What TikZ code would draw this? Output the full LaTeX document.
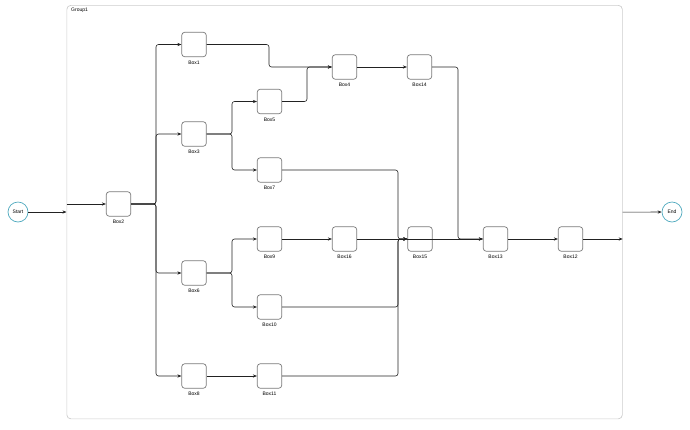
\documentclass[tikz,border=0pt]{standalone}
\usepackage{fontspec}
\setmainfont{Liberation Sans}
\usetikzlibrary{arrows.meta}
\definecolor{termc}{HTML}{4FA9BE}
\definecolor{boxc}{HTML}{7A7A7A}
\definecolor{groupc}{HTML}{CCCCCC}
\definecolor{linec}{HTML}{222222}
\begin{document}
\begin{tikzpicture}[x=1pt,y=-1pt,
  box/.style={draw=boxc, line width=0.7pt, rounded corners=3pt, minimum size=24.5pt, inner sep=0pt,
    label={[lbl, label distance=3.5pt]below:#1}},
  lbl/.style={font=\fontsize{5}{6}\selectfont, inner sep=0pt},
  term/.style={circle, draw=termc, line width=0.7pt, minimum size=20pt, inner sep=0pt, font=\fontsize{5}{6}\selectfont},
  conn/.style={draw=linec, line width=0.6pt, rounded corners=2.5pt, -{Stealth[length=4pt,width=3.2pt]}},
  grp/.style={draw=groupc, line width=0.7pt, rounded corners=4pt, inner sep=0pt, anchor=north west}
]
\useasboundingbox (0,0) rectangle (690,429);
\node[grp, minimum width=555.5pt, minimum height=413.5pt] (group) at (66.5,5) {};
\node[lbl, anchor=north west] (glabel) at (71,7.5) {Group1};

\node[term] (start) at (18,212) {Start};
\node[term] (end) at (672,212) {End};

\node[box=Box2] (box2) at (118.5,204) {};
\node[box=Box1] (box1) at (194,44.5) {};
\node[box=Box3] (box3) at (194,134) {};
\node[box=Box6] (box6) at (194,273) {};
\node[box=Box8] (box8) at (194,376) {};
\node[box=Box5] (box5) at (269.5,101.5) {};
\node[box=Box7] (box7) at (269.5,170) {};
\node[box=Box9] (box9) at (269.5,239) {};
\node[box=Box10] (box10) at (269.5,307) {};
\node[box=Box11] (box11) at (269.5,376) {};
\node[box=Box4] (box4) at (344.5,67) {};
\node[box=Box16] (box16) at (344.5,239) {};
\node[box=Box14] (box14) at (419.5,67) {};
\node[box=Box15] (box15) at (420,239) {};
\node[box=Box13] (box13) at (495.5,239) {};
\node[box=Box12] (box12) at (570.5,239) {};

\coordinate (t1) at (156,0);
\coordinate (t2) at (232,0);
\coordinate (t3) at (269,0);
\coordinate (t4) at (307,0);
\coordinate (t5) at (458,0);
\coordinate (t6) at (398,0);

\draw[conn] (start) -- (group.west |- start);
\draw[conn] (group.west |- box2) -- (box2);

\foreach \b in {box1,box3,box6,box8}
  \draw[conn] (box2.east) -- (t1 |- box2) -- (t1 |- \b) -- (\b.west);
\foreach \b in {box5,box7}
  \draw[conn] (box3.east) -- (t2 |- box3) -- (t2 |- \b) -- (\b.west);
\foreach \b in {box9,box10}
  \draw[conn] (box6.east) -- (t2 |- box6) -- (t2 |- \b) -- (\b.west);
\draw[conn] (box8) -- (box11);

\draw[conn] (box1.east) -- (t3 |- box1) -- (t3 |- box4) -- (box4.west);
\draw[conn] (box5.east) -- (t4 |- box5) -- (t4 |- box4) -- (box4.west);
\draw[conn] (box4) -- (box14);
\draw[conn] (box14.east) -- (t5 |- box14) -- (t5 |- box13) -- (box13.west);

\foreach \b in {box7,box10,box11}
  \draw[conn] (\b.east) -- (t6 |- \b) -- (t6 |- box15) -- (box15.west);
\draw[conn] (box9) -- (box16);
\draw[conn] (box16) -- (box15);
\draw[conn] (box15.west) -- (box13.west);
\draw[conn] (box13) -- (box12);
\draw[conn] (box12.east) -- (group.east |- box12);
\draw[conn] (group.east) -- (end);
\end{tikzpicture}
\end{document}
